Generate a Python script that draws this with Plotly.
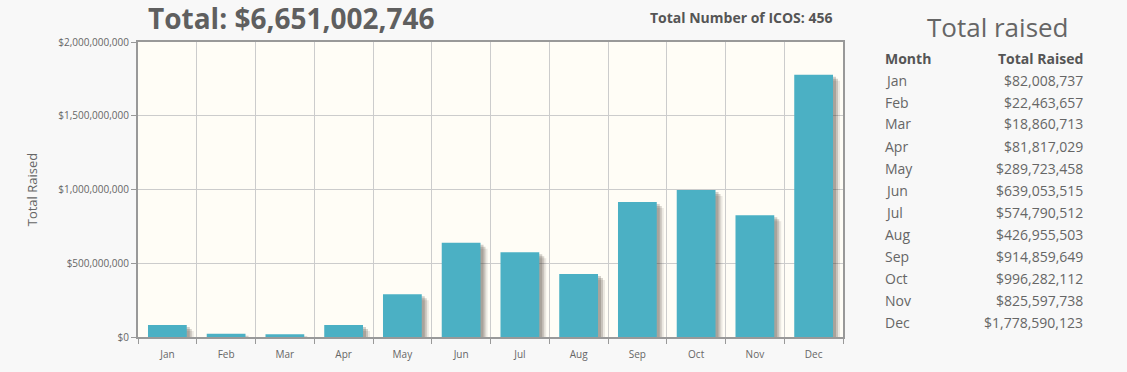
import plotly.graph_objects as go

months = ["Jan", "Feb", "Mar", "Apr", "May", "Jun", "Jul", "Aug", "Sep", "Oct", "Nov", "Dec"]
raised = [82008737, 22463657, 18860713, 81817029, 289723458, 639053515,
          574790512, 426955503, 914859649, 996282112, 825597738, 1778590123]
raised_labels = ["$82,008,737", "$22,463,657", "$18,860,713", "$81,817,029", "$289,723,458",
                 "$639,053,515", "$574,790,512", "$426,955,503", "$914,859,649",
                 "$996,282,112", "$825,597,738", "$1,778,590,123"]
total_label = "Total: $6,651,002,746"
count_label = "Total Number of ICOS: 456"
y_ticks = [0, 500000000, 1000000000, 1500000000, 2000000000]
y_tick_text = ["$0", "$500,000,000", "$1,000,000,000", "$1,500,000,000", "$2,000,000,000"]

W, H = 1127, 372
L, R, T, B = 138, 843, 42, 337
YMAX = 2000000000
FONT = "Open Sans"
TXT = "#666666"

def px(x):
    return (x - L) / (R - L)

def py(y):
    return (B - y) / (B - T)

px_per_cat = (R - L) / len(months)
units_per_px = YMAX / (B - T)
bw = 0.66

fig = go.Figure()
# soft shadows
for dx, dy, op in [(7, 6, 0.10), (5, 4, 0.20), (3, 2, 0.22)]:
    fig.add_trace(go.Bar(
        x=months, y=raised, base=-dy * units_per_px,
        width=bw, offset=-bw / 2 + dx / px_per_cat,
        marker=dict(color=f"rgba(60,50,40,{op})", line=dict(width=0)),
        hoverinfo="skip", showlegend=False))
fig.add_trace(go.Bar(
    x=months, y=raised, width=bw, offset=-bw / 2,
    marker=dict(color="#4bb0c4", line=dict(width=0)),
    showlegend=False))

fig.update_layout(
    width=W, height=H,
    margin=dict(l=L, r=W - R, t=T, b=H - B),
    paper_bgcolor="#f8f8f8", plot_bgcolor="#fffdf6",
    barmode="overlay",
    font=dict(family=FONT, color=TXT),
    xaxis=dict(
        type="category", tickson="boundaries", showgrid=True, gridcolor="#cccccc", gridwidth=1,
        ticks="outside", ticklen=5, tickcolor="#999999", tickwidth=1,
        showline=True, linecolor="#999999", linewidth=2, mirror=True,
        tickfont=dict(size=10, color=TXT, family=FONT), fixedrange=True,
        ticklabelstandoff=7,
    ),
    yaxis=dict(
        range=[0, YMAX], tickvals=y_ticks, ticktext=y_tick_text,
        showgrid=True, gridcolor="#cccccc", gridwidth=1, zeroline=False,
        ticks="outside", ticklen=5, tickcolor="#999999",
        showline=True, linecolor="#999999", linewidth=2, mirror=True,
        tickfont=dict(size=10, color=TXT, family=FONT),
        title=dict(text="Total Raised", font=dict(size=13, color=TXT, family=FONT), standoff=18),
    ),
)

ann = []
ann.append(dict(x=px(291), y=py(18), text=f"<b>{total_label}</b>", showarrow=False,
                xanchor="center", yanchor="middle", font=dict(size=28, color="#5f5f5f", family=FONT)))
ann.append(dict(x=px(834), y=py(17), text=f"<b>{count_label}</b>", showarrow=False,
                xanchor="right", yanchor="middle", font=dict(size=14, color="#555555", family=FONT)))
ann.append(dict(x=px(998), y=py(27), text="Total raised", showarrow=False,
                xanchor="center", yanchor="middle", font=dict(size=26, color=TXT, family=FONT)))
ann.append(dict(x=px(883), y=py(58), text="<b>Month</b>", showarrow=False,
                xanchor="left", yanchor="middle", font=dict(size=14, color="#555555", family=FONT)))
ann.append(dict(x=px(1085), y=py(58), text="<b>Total Raised</b>", showarrow=False,
                xanchor="right", yanchor="middle", font=dict(size=14, color="#555555", family=FONT)))
for i, (m, v) in enumerate(zip(months, raised_labels)):
    yy = 80 + i * 22
    ann.append(dict(x=px(883), y=py(yy), text=m, showarrow=False,
                    xanchor="left", yanchor="middle", font=dict(size=14, color=TXT, family=FONT)))
    ann.append(dict(x=px(1085), y=py(yy), text=v, showarrow=False,
                    xanchor="right", yanchor="middle", font=dict(size=14, color=TXT, family=FONT)))
for a in ann:
    a["xref"] = "paper"
    a["yref"] = "paper"
fig.update_layout(annotations=ann)

fig.write_html("out.html", config={"displayModeBar": False},
               post_script="document.body.style.margin='0';document.body.style.background='#f8f8f8';")
